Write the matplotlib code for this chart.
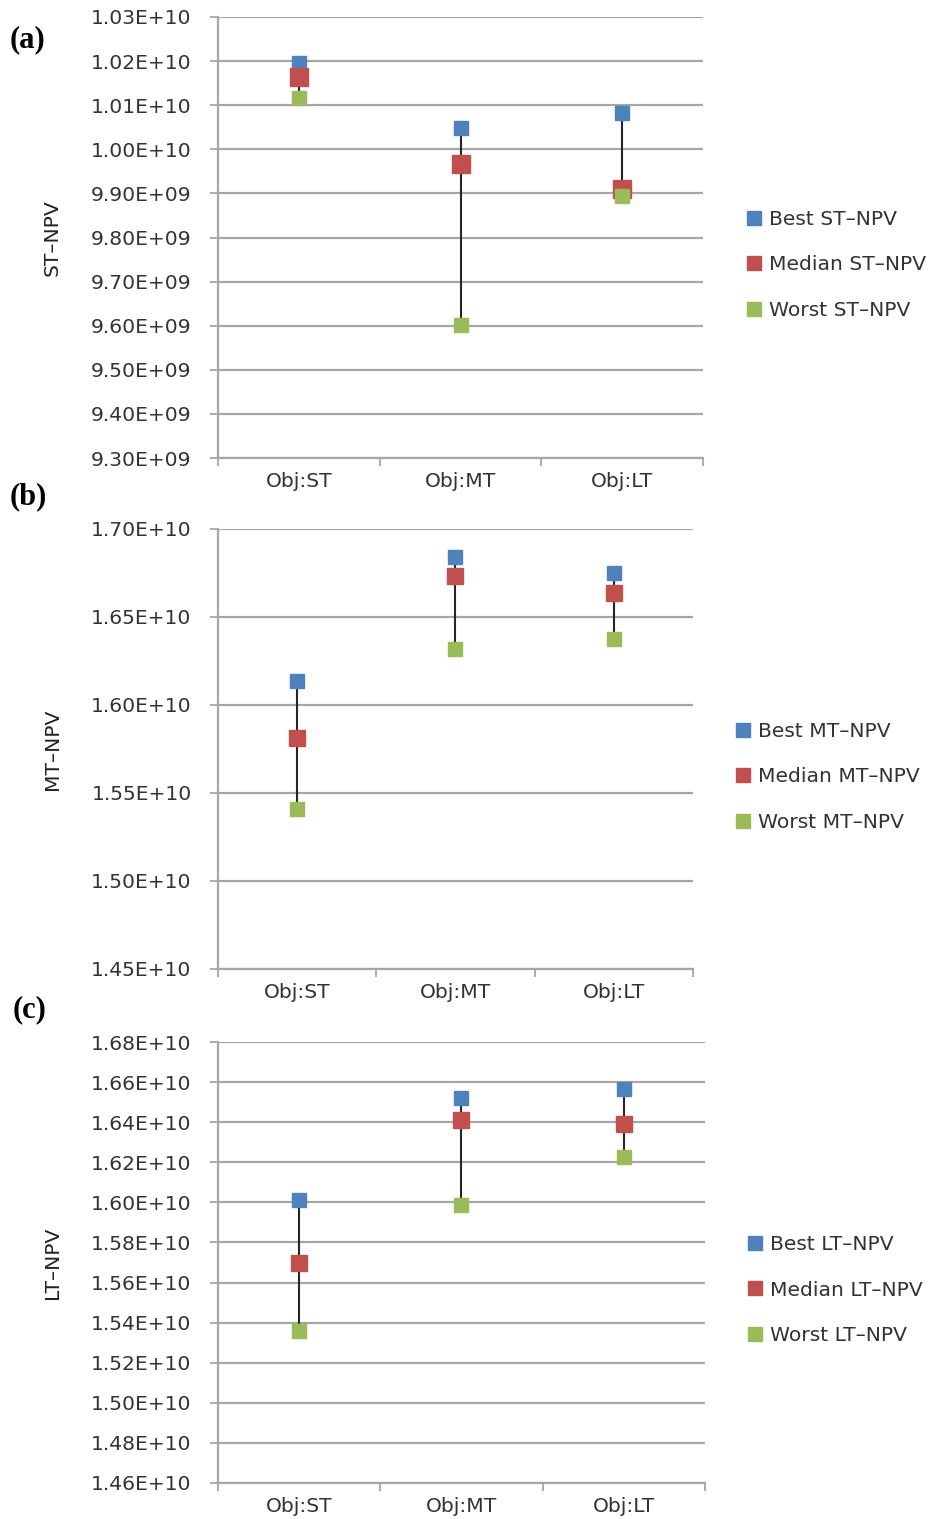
import matplotlib
matplotlib.use('Agg')
import matplotlib.pyplot as plt
from matplotlib.ticker import MultipleLocator, FuncFormatter, FixedLocator
from matplotlib.lines import Line2D

categories = ['Obj:ST', 'Obj:MT', 'Obj:LT']

st_best = [1.0195e10, 1.0049e10, 1.0083e10]
st_median = [1.0165e10, 9.966e9, 9.909e9]
st_worst = [1.0116e10, 9.601e9, 9.894e9]

mt_best = [1.6134e10, 1.6841e10, 1.6750e10]
mt_median = [1.5811e10, 1.6733e10, 1.6636e10]
mt_worst = [1.5407e10, 1.6316e10, 1.6375e10]

lt_best = [1.6013e10, 1.6520e10, 1.6566e10]
lt_median = [1.5697e10, 1.6411e10, 1.6390e10]
lt_worst = [1.5360e10, 1.5985e10, 1.6226e10]

C_BEST = '#4F81BD'
C_MED = '#C0504D'
C_WORST = '#9BBB59'
GRID = '#a6a6a6'
TXT = '#333333'
FS = 14.6

plt.rcParams['font.family'] = ['DejaVu Sans']

W, H = 941, 1519
fig = plt.figure(figsize=(W / 100, H / 100), dpi=100)

panels = [
    dict(tag='(a)', name='ST', best=st_best, med=st_median, worst=st_worst,
         ylim=(9.30e9, 1.03e10), step=1e8, box=(218, 703, 17, 458),
         leg=(746, 265), tagpos=(10, 40), med_ms=12.5),
    dict(tag='(b)', name='MT', best=mt_best, med=mt_median, worst=mt_worst,
         ylim=(1.45e10, 1.70e10), step=5e8, box=(218, 693, 529, 969),
         leg=(735, 777), tagpos=(10, 497), med_ms=11),
    dict(tag='(c)', name='LT', best=lt_best, med=lt_median, worst=lt_worst,
         ylim=(1.46e10, 1.68e10), step=2e8, box=(218, 705, 1042, 1483),
         leg=(747, 1290), tagpos=(13, 1010), med_ms=11),
]

fmt = FuncFormatter(lambda v, p: format(v, '.2E'))

for P in panels:
    l, r, t, b = P['box']
    ax = fig.add_axes([l / W, 1 - b / H, (r - l) / W, (b - t) / H])
    x = list(range(len(categories)))
    ax.vlines(x, P['worst'], P['best'], color='#262626', lw=1.5, zorder=3)
    ax.plot(x, P['best'], 's', color=C_BEST, ms=10.5, mec=C_BEST, ls='none', zorder=4)
    ax.plot(x, P['med'], 's', color=C_MED, ms=P['med_ms'], mec=C_MED, ls='none', zorder=5)
    ax.plot(x, P['worst'], 's', color=C_WORST, ms=10.5, mec=C_WORST, ls='none', zorder=6)

    ax.set_xlim(-0.5, len(categories) - 0.5)
    ax.set_ylim(*P['ylim'])
    ax.yaxis.set_major_locator(MultipleLocator(P['step']))
    ax.yaxis.set_major_formatter(fmt)
    ax.grid(axis='y', color=GRID, lw=1.6, zorder=0)
    ax.set_axisbelow(True)

    ax.set_xticks(x)
    ax.set_xticklabels(categories)
    ax.xaxis.set_minor_locator(FixedLocator([i - 0.5 for i in range(len(categories) + 1)]))
    ax.tick_params(axis='x', which='major', length=0, pad=10, labelsize=FS, labelcolor=TXT)
    ax.tick_params(axis='x', which='minor', length=6, width=1.3, color=GRID, direction='out')
    ax.tick_params(axis='y', which='major', length=6, width=1.3, color=GRID, pad=13,
                   labelsize=FS, labelcolor=TXT, direction='out')

    for s in ['top', 'right']:
        ax.spines[s].set_visible(False)
    for s in ['left', 'bottom']:
        ax.spines[s].set_color(GRID)
        ax.spines[s].set_linewidth(1.6)

    ax.set_ylabel(f"{P['name']}\u2013NPV", fontsize=FS, color='#222222')
    ax.yaxis.set_label_coords((62 - l) / (r - l), 0.5)

    handles = [Line2D([], [], marker='s', ls='none', color=c, mec=c, ms=10)
               for c in (C_BEST, C_MED, C_WORST)]
    labels = [f"Best {P['name']}\u2013NPV", f"Median {P['name']}\u2013NPV",
              f"Worst {P['name']}\u2013NPV"]
    lx, ly = P['leg']
    fig.legend(handles, labels, loc='center left',
               bbox_to_anchor=(lx / W, 1 - ly / H), bbox_transform=fig.transFigure,
               frameon=False, fontsize=FS, handlelength=0.75, handletextpad=0.4,
               labelspacing=1.3, borderpad=0, borderaxespad=0, labelcolor=TXT)

    tx, ty = P['tagpos']
    fig.text(tx / W, 1 - ty / H, P['tag'], fontsize=22, fontweight='bold',
             family='Liberation Serif', va='center', ha='left', color='black')

fig.savefig('out.png', dpi=100)
